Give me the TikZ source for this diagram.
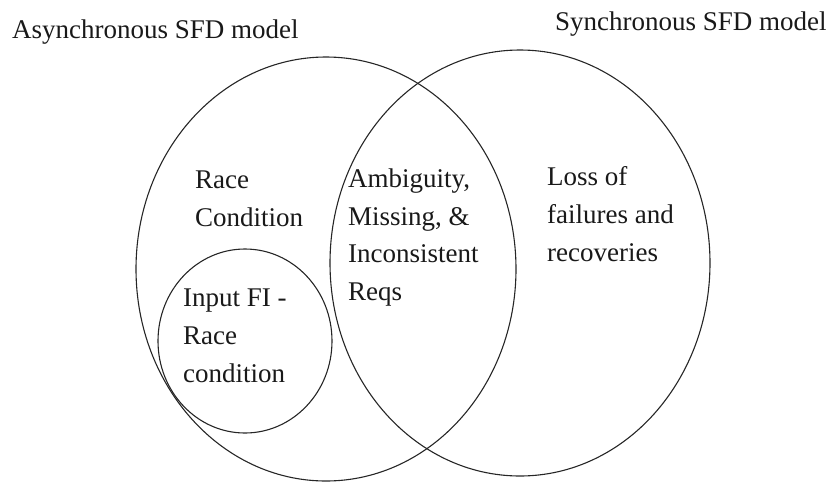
\documentclass[tikz,border=0pt]{standalone}
\usepackage{fontspec}
\setmainfont{Liberation Serif}
\begin{document}
\begin{tikzpicture}[
    x=1pt, y=-1pt,
    every node/.style={font=\rmfamily\fontsize{27}{37.7}\selectfont, text=black!90,
                       inner sep=0pt, anchor=north west, align=left},
    setline/.style={draw=black!85, line width=1.1pt}
]
    \useasboundingbox (0,0) rectangle (831,483);
    \draw[setline] (326,269) ellipse [x radius=190pt, y radius=212pt];
    \draw[setline] (520,263) ellipse [x radius=190pt, y radius=213pt];
    \draw[setline] (245,341) ellipse [x radius=87pt, y radius=92pt];
    \node (asyncttl) at (12,19.6)  {Asynchronous SFD model};
    \node (syncttl)  at (555,11.6) {Synchronous SFD model};
    \node (race)     at (195,171)  {Race\\Condition};
    \node (shared)   at (348,168.6) {Ambiguity,\\Missing, \&\\Inconsistent\\Reqs};
    \node (loss)     at (547,166.6) {Loss of\\failures and\\recoveries};
    \node (inputfi)  at (183,289)  {Input FI -\\Race\\condition};
\end{tikzpicture}
\end{document}
